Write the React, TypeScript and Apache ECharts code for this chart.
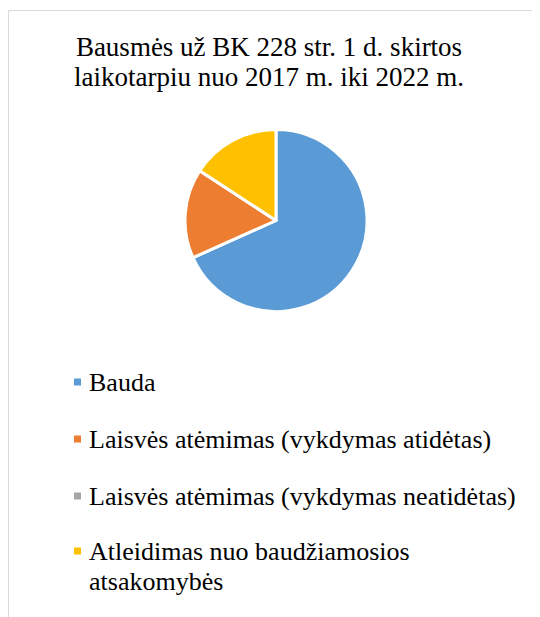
import React, { useEffect, useRef } from "react";
import * as echarts from "echarts";

const titleLines = ["Bausmės už BK 228 str. 1 d. skirtos", "laikotarpiu nuo 2017 m. iki 2022 m."];
const categories = [
  "Bauda",
  "Laisvės atėmimas (vykdymas atidėtas)",
  "Laisvės atėmimas (vykdymas neatidėtas)",
  "Atleidimas nuo baudžiamosios atsakomybės",
];
const lastLabelLines = ["Atleidimas nuo baudžiamosios", "atsakomybės"];
const values = [68.3, 15.9, 0, 15.8];
const colors = ["#5B9BD5", "#ED7D31", "#A5A5A5", "#FFC000"];

export default function App() {
  const ref = useRef<HTMLDivElement>(null);
  useEffect(() => {
    if (!ref.current) return;
    const chart = echarts.init(ref.current, null, { renderer: "svg" });
    const font = "'Liberation Serif', 'Times New Roman', serif";
    const legendCommon = {
      orient: "vertical",
      left: 59,
      itemGap: 27,
      itemWidth: 9,
      itemHeight: 9,
      icon: "rect",
      selectedMode: false,
      textStyle: {
        fontFamily: font,
        fontSize: 26,
        lineHeight: 30,
        color: "#000000",
        padding: [0, 0, 0, 2],
      },
    };
    chart.setOption({
      animation: false,
      backgroundColor: "#ffffff",
      graphic: [
        {
          type: "rect",
          shape: { x: 0.5, y: 2.5, width: 700, height: 800 },
          style: { fill: "none", stroke: "#d9d9d9", lineWidth: 1 },
          silent: true,
          z: -10,
        },
      ],
      title: {
        text: titleLines.join("\n"),
        left: 256,
        top: 19,
        textAlign: "center",
        textStyle: {
          fontFamily: font,
          fontSize: 27,
          fontWeight: "normal",
          lineHeight: 30,
          color: "#000000",
        },
      },
      legend: [
        {
          ...legendCommon,
          top: 354,
          data: categories.slice(0, 3),
        },
        {
          ...legendCommon,
          top: 493,
          formatter: () => "\n" + lastLabelLines.join("\n"),
          data: categories.slice(3),
        },
      ],
      series: [
        {
          type: "pie",
          center: [268, 212.5],
          radius: [0, 91],
          startAngle: 90,
          clockwise: true,
          label: { show: false },
          labelLine: { show: false },
          emphasis: { disabled: true },
          itemStyle: { borderColor: "#ffffff", borderWidth: 3 },
          data: categories.map((c, i) => ({
            name: c,
            value: values[i],
            itemStyle: { color: colors[i] },
          })),
        },
      ],
    });
    return () => chart.dispose();
  }, []);
  return <div ref={ref} style={{ width: 532, height: 609 }} />;
}
